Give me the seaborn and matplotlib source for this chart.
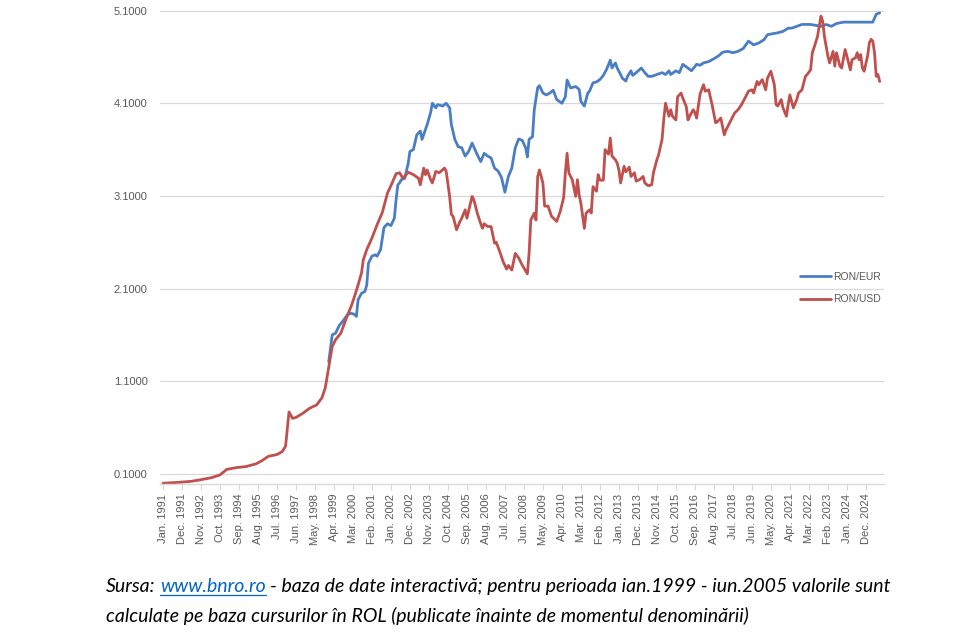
import matplotlib
matplotlib.use("Agg")
import matplotlib.pyplot as plt
import seaborn as sns
import pandas as pd

# ---------------- data (month index 0 = Jan. 1991) ----------------
usd_month = [0, 9, 16, 21, 28, 33, 37, 43, 48, 54, 57, 61, 66, 69, 71, 73, 75, 77, 81, 85,
             89, 92, 94, 96, 98, 100, 103, 105, 107, 109, 111, 113, 115, 116, 118, 121, 124, 127, 130, 132,
             135, 137, 139, 142, 145, 148, 149, 151, 152, 153, 155, 156, 158, 160, 163, 164, 166, 167, 168, 170,
             172, 173, 175, 176, 179, 180, 182, 184, 185, 186, 188, 190, 192, 193, 195, 197, 199, 200, 202, 204,
             206, 208, 211, 212, 213, 215, 216, 217, 218, 220, 221, 223, 225, 228, 230, 232, 233, 234, 235, 237,
             239, 240, 241, 242, 244, 245, 247, 248, 249, 251, 252, 253, 255, 256, 258, 259, 260, 262, 263, 264,
             265, 267, 268, 270, 271, 273, 274, 276, 278, 279, 281, 283, 284, 286, 287, 289, 290, 291, 293, 294,
             295, 297, 298, 300, 301, 303, 304, 305, 307, 308, 309, 311, 313, 314, 316, 318, 320, 321, 323, 325,
             326, 329, 331, 333, 335, 337, 339, 341, 342, 344, 345, 347, 349, 350, 352, 354, 355, 356, 358, 359,
             361, 362, 363, 365, 367, 368, 370, 372, 373, 375, 376, 377, 379, 380, 381, 382, 383, 385, 386, 388,
             389, 390, 392, 393, 395, 396, 398, 399, 401, 402, 403, 404, 405, 406, 408, 409, 410, 411, 412, 413,
             414, 415]
usd_value = [0.00, 0.01, 0.02, 0.035, 0.06, 0.09, 0.15, 0.17, 0.18, 0.21, 0.24, 0.29, 0.31, 0.34, 0.40, 0.77, 0.70, 0.71, 0.755, 0.81,
             0.845, 0.92, 1.03, 1.25, 1.475, 1.55, 1.62, 1.72, 1.82, 1.91, 2.02, 2.14, 2.27, 2.41, 2.52, 2.645, 2.79, 2.92, 3.13, 3.21,
             3.34, 3.35, 3.29, 3.355, 3.33, 3.29, 3.22, 3.40, 3.33, 3.38, 3.275, 3.24, 3.365, 3.35, 3.40, 3.365, 3.095, 2.90, 2.88, 2.735,
             2.825, 2.86, 2.95, 2.86, 3.095, 3.06, 2.915, 2.80, 2.75, 2.80, 2.77, 2.77, 2.59, 2.60, 2.50, 2.39, 2.31, 2.35, 2.30, 2.48,
             2.43, 2.355, 2.26, 2.48, 2.84, 2.915, 2.84, 3.31, 3.38, 3.24, 2.99, 2.99, 2.88, 2.825, 2.93, 3.08, 3.35, 3.56, 3.35, 3.275,
             3.095, 3.275, 3.11, 3.02, 2.75, 2.915, 2.95, 2.915, 3.20, 3.15, 3.33, 3.27, 3.27, 3.60, 3.55, 3.725, 3.53, 3.49, 3.455, 3.38,
             3.24, 3.42, 3.36, 3.41, 3.31, 3.35, 3.26, 3.275, 3.31, 3.24, 3.21, 3.22, 3.35, 3.49, 3.545, 3.71, 3.93, 4.10, 3.96, 4.03,
             3.96, 3.92, 4.17, 4.21, 4.155, 4.065, 3.92, 3.96, 4.03, 4.00, 3.94, 4.20, 4.30, 4.23, 4.245, 4.08, 3.89, 3.90, 3.94, 3.76,
             3.81, 3.92, 3.995, 4.03, 4.085, 4.155, 4.23, 4.245, 4.21, 4.335, 4.30, 4.355, 4.245, 4.37, 4.445, 4.30, 4.085, 4.07, 4.14, 4.05,
             3.96, 4.085, 4.19, 4.05, 4.14, 4.21, 4.245, 4.39, 4.41, 4.46, 4.645, 4.70, 4.82, 4.93, 5.04, 4.985, 4.82, 4.61, 4.535, 4.66,
             4.50, 4.645, 4.50, 4.48, 4.68, 4.61, 4.46, 4.57, 4.59, 4.645, 4.57, 4.625, 4.48, 4.445, 4.61, 4.75, 4.79, 4.77, 4.645, 4.39,
             4.41, 4.335]

eur_month = [96, 98, 100, 102, 104, 107, 109, 111, 112, 113, 115, 117, 118, 119, 121, 123, 124, 126, 128, 130,
             132, 134, 135, 136, 137, 138, 140, 142, 143, 145, 147, 149, 150, 153, 155, 156, 158, 159, 162, 164,
             166, 167, 169, 171, 173, 175, 177, 179, 182, 184, 186, 188, 190, 192, 194, 196, 198, 200, 202, 204,
             206, 208, 210, 211, 212, 214, 215, 217, 218, 220, 222, 224, 226, 228, 231, 233, 234, 236, 239, 241,
             242, 244, 246, 247, 249, 251, 253, 255, 257, 259, 260, 262, 263, 265, 266, 268, 269, 271, 272, 274,
             277, 279, 281, 283, 286, 289, 291, 293, 294, 297, 299, 301, 304, 306, 309, 311, 313, 316, 319, 322,
             324, 327, 330, 333, 336, 339, 342, 345, 348, 350, 353, 356, 359, 362, 364, 367, 370, 375, 378, 381,
             384, 387, 390, 394, 400, 406, 411, 413, 415]
eur_value = [1.31, 1.60, 1.62, 1.70, 1.745, 1.82, 1.835, 1.82, 1.80, 1.98, 2.05, 2.07, 2.14, 2.375, 2.45, 2.465, 2.45, 2.52, 2.76, 2.80,
             2.78, 2.86, 3.06, 3.22, 3.24, 3.275, 3.29, 3.45, 3.58, 3.60, 3.76, 3.80, 3.71, 3.87, 4.00, 4.10, 4.05, 4.085, 4.07, 4.10,
             4.05, 3.87, 3.71, 3.63, 3.62, 3.53, 3.58, 3.67, 3.545, 3.47, 3.56, 3.53, 3.51, 3.40, 3.37, 3.30, 3.14, 3.31, 3.40, 3.62,
             3.715, 3.70, 3.62, 3.52, 3.71, 3.74, 4.03, 4.27, 4.29, 4.21, 4.19, 4.21, 4.24, 4.14, 4.10, 4.17, 4.35, 4.265, 4.28, 4.25,
             4.12, 4.07, 4.21, 4.23, 4.32, 4.33, 4.355, 4.40, 4.47, 4.565, 4.48, 4.535, 4.48, 4.41, 4.37, 4.34, 4.39, 4.45, 4.40, 4.43,
             4.48, 4.43, 4.39, 4.39, 4.41, 4.43, 4.41, 4.45, 4.41, 4.45, 4.43, 4.52, 4.48, 4.45, 4.52, 4.51, 4.535, 4.55, 4.58, 4.615,
             4.65, 4.66, 4.645, 4.66, 4.69, 4.77, 4.73, 4.75, 4.785, 4.84, 4.85, 4.86, 4.875, 4.91, 4.91, 4.93, 4.95, 4.95, 4.94, 4.93,
             4.95, 4.93, 4.96, 4.975, 4.975, 4.975, 4.975, 5.06, 5.075]

series_names = ["RON/EUR", "RON/USD"]
x_tick_labels = ["Jan. 1991", "Dec. 1991", "Nov. 1992", "Oct. 1993", "Sep. 1994", "Aug. 1995", "Jul. 1996",
                 "Jun. 1997", "May. 1998", "Apr. 1999", "Mar. 2000", "Feb. 2001", "Jan. 2002", "Dec. 2002",
                 "Nov. 2003", "Oct. 2004", "Sep. 2005", "Aug. 2006", "Jul. 2007", "Jun. 2008", "May. 2009",
                 "Apr. 2010", "Mar. 2011", "Feb. 2012", "Jan. 2013", "Dec. 2013", "Nov. 2014", "Oct. 2015",
                 "Sep. 2016", "Aug. 2017", "Jul. 2018", "Jun. 2019", "May. 2020", "Apr. 2021", "Mar. 2022",
                 "Feb. 2023", "Jan. 2024", "Dec. 2024"]
x_tick_step = 11
y_ticks = [0.1, 1.1, 2.1, 3.1, 4.1, 5.1]

caption_prefix = "Sursa:"
caption_link = "www.bnro.ro"
caption_rest = "- baza de date interactivă; pentru perioada ian.1999 - iun.2005 valorile sunt"
caption_line2 = "calculate pe baza cursurilor în ROL (publicate înainte de momentul denominării)"

# ---------------- style ----------------
sns.set_theme(style="white")
plt.rcParams['font.family'] = ['Liberation Sans', 'DejaVu Sans']

W, H = 967, 644
fig = plt.figure(figsize=(W / 100, H / 100), dpi=100)
ax = fig.add_axes([160 / W, 1 - 484 / H, 724 / W, 474 / H])

df = pd.concat([
    pd.DataFrame({"month": eur_month, "value": eur_value, "series": series_names[0]}),
    pd.DataFrame({"month": usd_month, "value": usd_value, "series": series_names[1]}),
], ignore_index=True)

palette = {series_names[0]: "#4A7EC4", series_names[1]: "#C0504D"}
sns.lineplot(data=df, x="month", y="value", hue="series", hue_order=series_names,
             palette=palette, linewidth=2.0, estimator=None, sort=True, ax=ax)

ax.set_xlim(-1.7, 417.5)
ax.set_ylim(-0.008, 5.106)
ax.set_yticks(y_ticks)
ax.set_yticklabels([f"{v:.4f}" for v in y_ticks])
ax.set_xticks([i * x_tick_step for i in range(len(x_tick_labels))])
ax.set_xticklabels(x_tick_labels, rotation=90)
ax.set_xlabel("")
ax.set_ylabel("")

ax.yaxis.grid(True, color="#D9D9D9", linewidth=0.9)
ax.xaxis.grid(False)
for s in ["top", "right", "left"]:
    ax.spines[s].set_visible(False)
ax.spines["bottom"].set_color("#D9D9D9")
ax.spines["bottom"].set_linewidth(1.0)
ax.tick_params(axis="y", length=0, pad=9, labelsize=8, labelcolor="#595959")
ax.tick_params(axis="x", length=4, width=0.8, color="#D9D9D9", direction="out",
               pad=3, labelsize=8, labelcolor="#595959", bottom=True)

handles, labels = ax.get_legend_handles_labels()
leg = ax.legend(handles, labels, loc="center left", bbox_to_anchor=(0.884, 0.413),
                frameon=False, fontsize=7.5, handlelength=3.0, handletextpad=0.15,
                labelspacing=1.2, borderpad=0, borderaxespad=0)
for t in leg.get_texts():
    t.set_color("#595959")
for l in leg.get_lines():
    l.set_linewidth(2.0)

# ---------------- caption ----------------
renderer = fig.canvas.get_renderer()
cap_font = dict(family=["Lato", "DejaVu Sans"], style="italic")

def width_of(s, size):
    t = fig.text(0, 0, s, fontsize=size, **cap_font)
    w = t.get_window_extent(renderer).width
    t.remove()
    return w

base = 12.0
full = caption_prefix + " " + caption_link + " " + caption_rest
size = base * 781.0 / width_of(full, base)
space_w = width_of("x x", size) - width_of("xx", size)

x0 = 106
y1 = 592
y2 = 622
t1 = fig.text(x0 / W, 1 - y1 / H, caption_prefix, fontsize=size, color="black",
              ha="left", va="baseline", **cap_font)
bb = t1.get_window_extent(renderer)
x = bb.x1 + space_w
t2 = fig.text(x / W, 1 - y1 / H, caption_link, fontsize=size, color="#0563C1",
              ha="left", va="baseline", **cap_font)
bb2 = t2.get_window_extent(renderer)
fig.add_artist(plt.Line2D([bb2.x0 / W, bb2.x1 / W], [(H - y1 - 2.5) / H, (H - y1 - 2.5) / H],
                          color="#0563C1", linewidth=0.9))
x = bb2.x1 + space_w
fig.text(x / W, 1 - y1 / H, caption_rest, fontsize=size, color="black",
         ha="left", va="baseline", **cap_font)
fig.text(x0 / W, 1 - y2 / H, caption_line2, fontsize=size, color="black",
         ha="left", va="baseline", **cap_font)

fig.savefig("out.png", dpi=100)
